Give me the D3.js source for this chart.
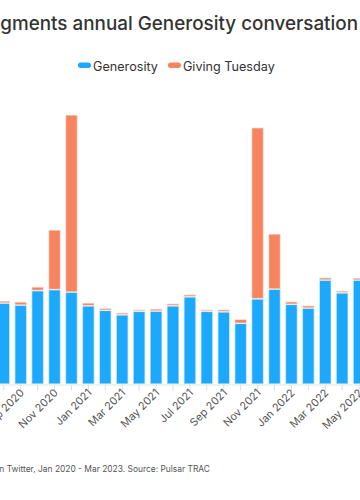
<!DOCTYPE html>
<html>
<head>
<meta charset="utf-8">
<script src="https://cdn.jsdelivr.net/npm/d3@7"></script>
<style>
  html, body { margin: 0; padding: 0; background: #fff; overflow: hidden; }
  svg { display: block; font-family: Inter, "Noto Sans", sans-serif; }
</style>
</head>
<body>
<svg id="chart" width="360" height="500"></svg>
<script>
// ---- Data (thousands of mentions) ----
const months = ["Aug 2020","Sep 2020","Oct 2020","Nov 2020","Dec 2020","Jan 2021","Feb 2021","Mar 2021",
  "Apr 2021","May 2021","Jun 2021","Jul 2021","Aug 2021","Sep 2021","Oct 2021","Nov 2021","Dec 2021",
  "Jan 2022","Feb 2022","Mar 2022","Apr 2022","May 2022"];
const generosity = [81,79,93.5,94.5,92,78.3,73.7,69.3,72.7,73,78.3,87.3,72.7,72.3,60.7,85.3,95,79.7,76,104,91.3,104];
const givingTuesday = [2,3,3.5,59.5,177,2.7,2,1.8,1.6,2,2,2,1.6,2,4,171,55,2.6,2.3,2.3,1.7,2];
const tickLabels = ["Sep 2020","Nov 2020","Jan 2021","Mar 2021","May 2021","Jul 2021","Sep 2021","Nov 2021","Jan 2022","Mar 2022","May 2022"];
const seriesNames = ["Generosity","Giving Tuesday"];
const colors = ["#1ca9fb","#f5845f"];
const titleText = "Giving Tuesday augments annual Generosity conversation";
const footerText = "Volume of Generosity conversation on Twitter, Jan 2020 - Mar 2023. Source: Pulsar TRAC";

const svg = d3.select("#chart");
const step = 16.92;
const left = 20.7 - 1.5 * step;
const x = d3.scaleBand().domain(months)
  .range([left, left + months.length * step])
  .paddingInner(0.29).paddingOuter(0.145);
const y = d3.scaleLinear().domain([0, 280]).range([384, 104]);

function fitSize(str, base, weight, target) {
  const p = svg.append("text").attr("font-weight", weight).attr("font-size", base).text(str);
  const w = p.node().getComputedTextLength();
  p.remove();
  return base * target / w;
}

// Title (right end of visible part anchored)
svg.append("text")
  .attr("x", 358).attr("y", 30)
  .attr("text-anchor", "end")
  .attr("fill", "#333").attr("font-weight", 500)
  .attr("font-size", fitSize("gments annual Generosity conversation", 18, 500, 358))
  .text(titleText);

// Legend
const legendSize = fitSize("Generosity", 13, 400, 65);
const legend = svg.append("g");
let lx = 78;
seriesNames.forEach((name, i) => {
  legend.append("rect").attr("x", lx).attr("y", 62.5).attr("width", 13).attr("height", 5.5)
    .attr("rx", 2.75).attr("fill", colors[i]);
  const t = legend.append("text").attr("x", lx + 15).attr("y", 70.5)
    .attr("font-size", legendSize).attr("fill", "#333").text(name);
  lx = lx + 15 + t.node().getComputedTextLength() + 10;
});

// Stacked bars
const table = months.map((m, i) => ({month: m, Generosity: generosity[i], "Giving Tuesday": givingTuesday[i]}));
const stacked = d3.stack().keys(seriesNames)(table);
svg.append("g").selectAll("g").data(stacked).join("g")
  .attr("fill", (d, i) => colors[i])
  .selectAll("rect").data(d => d).join("rect")
  .attr("x", d => x(d.data.month))
  .attr("width", x.bandwidth())
  .attr("y", d => y(d[1]))
  .attr("height", d => y(d[0]) - y(d[1]))
  .attr("stroke", "#fff").attr("stroke-opacity", 0.6).attr("stroke-width", 1.5);

// X axis
const xAxis = d3.axisBottom(x).tickSize(6).tickSizeOuter(0)
  .tickFormat(d => tickLabels.includes(d) ? d : "");
const ax = svg.append("g").attr("transform", "translate(0,384.5)").call(xAxis);
ax.select(".domain").attr("stroke", "#e3e3e3");
ax.selectAll(".tick line").attr("stroke", "#dedede");
ax.selectAll(".tick text")
  .attr("font-size", 10.8).attr("fill", "#555")
  .attr("font-family", "Inter, sans-serif")
  .attr("text-anchor", "end")
  .attr("x", 0).attr("y", 0).attr("dy", 0)
  .attr("transform", "translate(4,9) rotate(-45)");

// Footer
svg.append("text").attr("x", 210).attr("y", 472)
  .attr("text-anchor", "end").attr("fill", "#555")
  .attr("font-size", fitSize("n Twitter, Jan 2020 - Mar 2023. Source: Pulsar TRAC", 9.5, 400, 211))
  .text(footerText);
</script>
</body>
</html>
